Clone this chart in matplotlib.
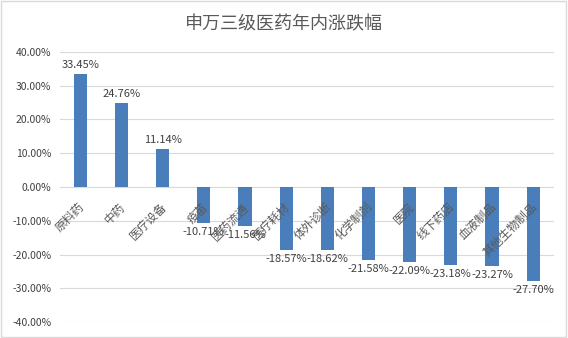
import matplotlib
matplotlib.use('Agg')
import matplotlib.pyplot as plt
from matplotlib.ticker import FuncFormatter, MultipleLocator
from matplotlib.patches import Rectangle

plt.rcParams['font.family'] = ['Noto Sans CJK SC', 'DejaVu Sans']

# 申万三级医药行业年内涨跌幅 (%)
categories = ['原料药', '中药', '医疗设备', '疫苗', '医药流通', '医疗耗材',
              '体外诊断', '化学制剂', '医院', '线下药店', '血液制品', '其他生物制品']
changes = [33.45, 24.76, 11.14, -10.71, -11.56, -18.57,
           -18.62, -21.58, -22.09, -23.18, -23.27, -27.70]

fig = plt.figure(figsize=(5.68, 3.38), dpi=100)
ax = fig.add_axes([0.105, 0.047, 0.87, 0.80])

bar_color = '#4A7EBB'
text_color = '#404040'
x = list(range(len(categories)))
ax.bar(x, changes, width=0.32, color=bar_color, zorder=3)

ax.set_ylim(-40, 40)
ax.set_xlim(-0.5, len(categories) - 0.5)
ax.yaxis.set_major_locator(MultipleLocator(10))
ax.yaxis.set_major_formatter(FuncFormatter(lambda v, p: f'{v:.2f}%'))
ax.tick_params(axis='y', length=0, labelsize=7.5, labelcolor=text_color, pad=6)
ax.tick_params(axis='x', length=0, labelbottom=False)
ax.grid(axis='y', color='#D9D9D9', linewidth=0.8, zorder=0)
for s in ax.spines.values():
    s.set_visible(False)

# data labels above positive bars, below negative bars
for i, v in enumerate(changes):
    if v >= 0:
        ax.annotate(f'{v:.2f}%', (i, v), xytext=(0, 3), textcoords='offset points',
                    ha='center', va='bottom', fontsize=8, color=text_color)
    else:
        ax.annotate(f'{v:.2f}%', (i, v), xytext=(0, -3), textcoords='offset points',
                    ha='center', va='top', fontsize=8, color=text_color)

# category labels under the zero line, rotated
for i, name in enumerate(categories):
    ax.annotate(name, (i, 0), xytext=(1.5, -13), textcoords='offset points',
                rotation=45, rotation_mode='anchor', ha='right', va='center',
                fontsize=8.5, color='#595959', zorder=4)

fig.text(0.5, 0.929, '申万三级医药年内涨跌幅', ha='center', va='center',
         fontsize=13, color='#595959')

# light frame around the chart
fig.patches.append(Rectangle((0.002, 0.003), 0.995, 0.993, transform=fig.transFigure,
                             fill=False, edgecolor='#D9D9D9', linewidth=1))

fig.savefig('out.png', dpi=100)
